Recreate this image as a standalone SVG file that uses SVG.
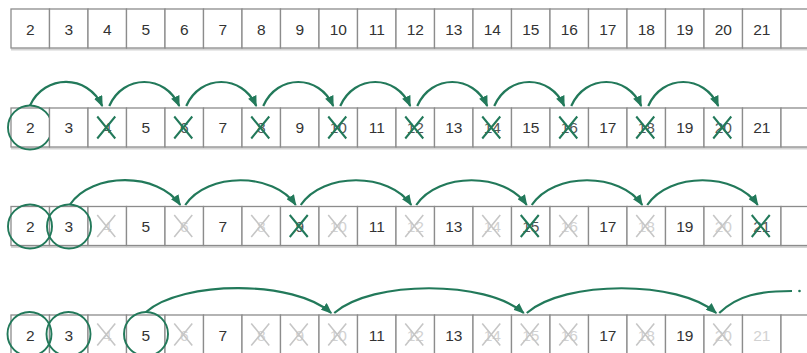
<svg xmlns="http://www.w3.org/2000/svg" xmlns:xlink="http://www.w3.org/1999/xlink" width="807" height="353" viewBox="0 0 807 353">
<style>
.c{fill:#fff;stroke:#8c8c8c;stroke-width:1.3}
.n{font-family:"Liberation Sans",Arial,sans-serif;font-size:15.5px;fill:#333;text-anchor:middle}
.d{fill:#555}
.f{fill:#d2d2d2}
.xg{fill:none;stroke:#22795a;stroke-width:2}
.xl{fill:none;stroke:#c6c6c6;stroke-width:1.6}
.ring{fill:none;stroke:#22795a;stroke-width:1.9}
.arc{fill:none;stroke:#22795a;stroke-width:2.2;marker-end:url(#ah)}
.tail{fill:none;stroke:#22795a;stroke-width:2.2}
.sh{stroke:#d4d4d4;stroke-width:2}
</style>
<defs>
<rect id="cell" width="38.5" height="39"/>
<path id="xm" d="M9.25,8.5 L27.25,30.5 M27.25,8.5 L9.25,30.5"/>
<marker id="ah" viewBox="0 0 11 9" refX="10" refY="4.5" markerWidth="11" markerHeight="9" markerUnits="userSpaceOnUse" orient="auto"><path d="M0,0 L11,4.5 L0,9 z" fill="#22795a"/></marker>
</defs>
<rect width="807" height="353" fill="#fff"/>
<g id="shadows">
<line class="sh" x1="11" y1="49.5" x2="807" y2="49.5"/>
<line class="sh" x1="11" y1="148.5" x2="807" y2="148.5"/>
<line class="sh" x1="11" y1="247" x2="807" y2="247"/>
</g>
<g id="row1">
<g id="r1-2" transform="translate(11,9)"><use href="#cell" class="c"/><text class="n" x="19.25" y="26">2</text></g>
<g id="r1-3" transform="translate(49.5,9)"><use href="#cell" class="c"/><text class="n" x="19.25" y="26">3</text></g>
<g id="r1-4" transform="translate(88,9)"><use href="#cell" class="c"/><text class="n" x="19.25" y="26">4</text></g>
<g id="r1-5" transform="translate(126.5,9)"><use href="#cell" class="c"/><text class="n" x="19.25" y="26">5</text></g>
<g id="r1-6" transform="translate(165,9)"><use href="#cell" class="c"/><text class="n" x="19.25" y="26">6</text></g>
<g id="r1-7" transform="translate(203.5,9)"><use href="#cell" class="c"/><text class="n" x="19.25" y="26">7</text></g>
<g id="r1-8" transform="translate(242,9)"><use href="#cell" class="c"/><text class="n" x="19.25" y="26">8</text></g>
<g id="r1-9" transform="translate(280.5,9)"><use href="#cell" class="c"/><text class="n" x="19.25" y="26">9</text></g>
<g id="r1-10" transform="translate(319,9)"><use href="#cell" class="c"/><text class="n" x="19.25" y="26">10</text></g>
<g id="r1-11" transform="translate(357.5,9)"><use href="#cell" class="c"/><text class="n" x="19.25" y="26">11</text></g>
<g id="r1-12" transform="translate(396,9)"><use href="#cell" class="c"/><text class="n" x="19.25" y="26">12</text></g>
<g id="r1-13" transform="translate(434.5,9)"><use href="#cell" class="c"/><text class="n" x="19.25" y="26">13</text></g>
<g id="r1-14" transform="translate(473,9)"><use href="#cell" class="c"/><text class="n" x="19.25" y="26">14</text></g>
<g id="r1-15" transform="translate(511.5,9)"><use href="#cell" class="c"/><text class="n" x="19.25" y="26">15</text></g>
<g id="r1-16" transform="translate(550,9)"><use href="#cell" class="c"/><text class="n" x="19.25" y="26">16</text></g>
<g id="r1-17" transform="translate(588.5,9)"><use href="#cell" class="c"/><text class="n" x="19.25" y="26">17</text></g>
<g id="r1-18" transform="translate(627,9)"><use href="#cell" class="c"/><text class="n" x="19.25" y="26">18</text></g>
<g id="r1-19" transform="translate(665.5,9)"><use href="#cell" class="c"/><text class="n" x="19.25" y="26">19</text></g>
<g id="r1-20" transform="translate(704,9)"><use href="#cell" class="c"/><text class="n" x="19.25" y="26">20</text></g>
<g id="r1-21" transform="translate(742.5,9)"><use href="#cell" class="c"/><text class="n" x="19.25" y="26">21</text></g>
<g id="r1-e" transform="translate(781,9)"><use href="#cell" class="c"/></g>
</g>
<g id="row2">
<g id="r2-2" transform="translate(11,108)"><use href="#cell" class="c"/><text class="n" x="19.25" y="25">2</text><circle class="ring" cx="19" cy="19.5" r="22"/></g>
<g id="r2-3" transform="translate(49.5,108)"><use href="#cell" class="c"/><text class="n" x="19.25" y="25">3</text></g>
<g id="r2-4" transform="translate(88,108)"><use href="#cell" class="c"/><text class="n d" x="19.25" y="25">4</text><use href="#xm" class="xg"/></g>
<g id="r2-5" transform="translate(126.5,108)"><use href="#cell" class="c"/><text class="n" x="19.25" y="25">5</text></g>
<g id="r2-6" transform="translate(165,108)"><use href="#cell" class="c"/><text class="n d" x="19.25" y="25">6</text><use href="#xm" class="xg"/></g>
<g id="r2-7" transform="translate(203.5,108)"><use href="#cell" class="c"/><text class="n" x="19.25" y="25">7</text></g>
<g id="r2-8" transform="translate(242,108)"><use href="#cell" class="c"/><text class="n d" x="19.25" y="25">8</text><use href="#xm" class="xg"/></g>
<g id="r2-9" transform="translate(280.5,108)"><use href="#cell" class="c"/><text class="n" x="19.25" y="25">9</text></g>
<g id="r2-10" transform="translate(319,108)"><use href="#cell" class="c"/><text class="n d" x="19.25" y="25">10</text><use href="#xm" class="xg"/></g>
<g id="r2-11" transform="translate(357.5,108)"><use href="#cell" class="c"/><text class="n" x="19.25" y="25">11</text></g>
<g id="r2-12" transform="translate(396,108)"><use href="#cell" class="c"/><text class="n d" x="19.25" y="25">12</text><use href="#xm" class="xg"/></g>
<g id="r2-13" transform="translate(434.5,108)"><use href="#cell" class="c"/><text class="n" x="19.25" y="25">13</text></g>
<g id="r2-14" transform="translate(473,108)"><use href="#cell" class="c"/><text class="n d" x="19.25" y="25">14</text><use href="#xm" class="xg"/></g>
<g id="r2-15" transform="translate(511.5,108)"><use href="#cell" class="c"/><text class="n" x="19.25" y="25">15</text></g>
<g id="r2-16" transform="translate(550,108)"><use href="#cell" class="c"/><text class="n d" x="19.25" y="25">16</text><use href="#xm" class="xg"/></g>
<g id="r2-17" transform="translate(588.5,108)"><use href="#cell" class="c"/><text class="n" x="19.25" y="25">17</text></g>
<g id="r2-18" transform="translate(627,108)"><use href="#cell" class="c"/><text class="n d" x="19.25" y="25">18</text><use href="#xm" class="xg"/></g>
<g id="r2-19" transform="translate(665.5,108)"><use href="#cell" class="c"/><text class="n" x="19.25" y="25">19</text></g>
<g id="r2-20" transform="translate(704,108)"><use href="#cell" class="c"/><text class="n d" x="19.25" y="25">20</text><use href="#xm" class="xg"/></g>
<g id="r2-21" transform="translate(742.5,108)"><use href="#cell" class="c"/><text class="n" x="19.25" y="25">21</text></g>
<g id="r2-e" transform="translate(781,108)"><use href="#cell" class="c"/></g>
</g>
<g id="row3">
<g id="r3-2" transform="translate(11,206.5)"><use href="#cell" class="c"/><text class="n" x="19.25" y="25.5">2</text></g>
<g id="r3-3" transform="translate(49.5,206.5)"><use href="#cell" class="c"/><text class="n" x="19.25" y="25.5">3</text></g>
<g id="r3-4" transform="translate(88,206.5)"><use href="#cell" class="c"/><text class="n f" x="19.25" y="25.5">4</text><use href="#xm" class="xl"/></g>
<g id="r3-5" transform="translate(126.5,206.5)"><use href="#cell" class="c"/><text class="n" x="19.25" y="25.5">5</text></g>
<g id="r3-6" transform="translate(165,206.5)"><use href="#cell" class="c"/><text class="n f" x="19.25" y="25.5">6</text><use href="#xm" class="xl"/></g>
<g id="r3-7" transform="translate(203.5,206.5)"><use href="#cell" class="c"/><text class="n" x="19.25" y="25.5">7</text></g>
<g id="r3-8" transform="translate(242,206.5)"><use href="#cell" class="c"/><text class="n f" x="19.25" y="25.5">8</text><use href="#xm" class="xl"/></g>
<g id="r3-9" transform="translate(280.5,206.5)"><use href="#cell" class="c"/><text class="n d" x="19.25" y="25.5">9</text><use href="#xm" class="xg"/></g>
<g id="r3-10" transform="translate(319,206.5)"><use href="#cell" class="c"/><text class="n f" x="19.25" y="25.5">10</text><use href="#xm" class="xl"/></g>
<g id="r3-11" transform="translate(357.5,206.5)"><use href="#cell" class="c"/><text class="n" x="19.25" y="25.5">11</text></g>
<g id="r3-12" transform="translate(396,206.5)"><use href="#cell" class="c"/><text class="n f" x="19.25" y="25.5">12</text><use href="#xm" class="xl"/></g>
<g id="r3-13" transform="translate(434.5,206.5)"><use href="#cell" class="c"/><text class="n" x="19.25" y="25.5">13</text></g>
<g id="r3-14" transform="translate(473,206.5)"><use href="#cell" class="c"/><text class="n f" x="19.25" y="25.5">14</text><use href="#xm" class="xl"/></g>
<g id="r3-15" transform="translate(511.5,206.5)"><use href="#cell" class="c"/><text class="n d" x="19.25" y="25.5">15</text><use href="#xm" class="xg"/></g>
<g id="r3-16" transform="translate(550,206.5)"><use href="#cell" class="c"/><text class="n f" x="19.25" y="25.5">16</text><use href="#xm" class="xl"/></g>
<g id="r3-17" transform="translate(588.5,206.5)"><use href="#cell" class="c"/><text class="n" x="19.25" y="25.5">17</text></g>
<g id="r3-18" transform="translate(627,206.5)"><use href="#cell" class="c"/><text class="n f" x="19.25" y="25.5">18</text><use href="#xm" class="xl"/></g>
<g id="r3-19" transform="translate(665.5,206.5)"><use href="#cell" class="c"/><text class="n" x="19.25" y="25.5">19</text></g>
<g id="r3-20" transform="translate(704,206.5)"><use href="#cell" class="c"/><text class="n f" x="19.25" y="25.5">20</text><use href="#xm" class="xl"/></g>
<g id="r3-21" transform="translate(742.5,206.5)"><use href="#cell" class="c"/><text class="n d" x="19.25" y="25.5">21</text><use href="#xm" class="xg"/></g>
<g id="r3-e" transform="translate(781,206.5)"><use href="#cell" class="c"/></g>
<circle class="ring" cx="30" cy="226.5" r="22"/>
<circle class="ring" cx="69" cy="226.5" r="22"/>
</g>
<g id="row4">
<g id="r4-2" transform="translate(11,315)"><use href="#cell" class="c"/><text class="n" x="19.25" y="26">2</text></g>
<g id="r4-3" transform="translate(49.5,315)"><use href="#cell" class="c"/><text class="n" x="19.25" y="26">3</text></g>
<g id="r4-4" transform="translate(88,315)"><use href="#cell" class="c"/><text class="n f" x="19.25" y="26">4</text><use href="#xm" class="xl"/></g>
<g id="r4-5" transform="translate(126.5,315)"><use href="#cell" class="c"/><text class="n" x="19.25" y="26">5</text></g>
<g id="r4-6" transform="translate(165,315)"><use href="#cell" class="c"/><text class="n f" x="19.25" y="26">6</text><use href="#xm" class="xl"/></g>
<g id="r4-7" transform="translate(203.5,315)"><use href="#cell" class="c"/><text class="n" x="19.25" y="26">7</text></g>
<g id="r4-8" transform="translate(242,315)"><use href="#cell" class="c"/><text class="n f" x="19.25" y="26">8</text><use href="#xm" class="xl"/></g>
<g id="r4-9" transform="translate(280.5,315)"><use href="#cell" class="c"/><text class="n f" x="19.25" y="26">9</text><use href="#xm" class="xl"/></g>
<g id="r4-10" transform="translate(319,315)"><use href="#cell" class="c"/><text class="n f" x="19.25" y="26">10</text><use href="#xm" class="xl"/></g>
<g id="r4-11" transform="translate(357.5,315)"><use href="#cell" class="c"/><text class="n" x="19.25" y="26">11</text></g>
<g id="r4-12" transform="translate(396,315)"><use href="#cell" class="c"/><text class="n f" x="19.25" y="26">12</text><use href="#xm" class="xl"/></g>
<g id="r4-13" transform="translate(434.5,315)"><use href="#cell" class="c"/><text class="n" x="19.25" y="26">13</text></g>
<g id="r4-14" transform="translate(473,315)"><use href="#cell" class="c"/><text class="n f" x="19.25" y="26">14</text><use href="#xm" class="xl"/></g>
<g id="r4-15" transform="translate(511.5,315)"><use href="#cell" class="c"/><text class="n f" x="19.25" y="26">15</text><use href="#xm" class="xl"/></g>
<g id="r4-16" transform="translate(550,315)"><use href="#cell" class="c"/><text class="n f" x="19.25" y="26">16</text><use href="#xm" class="xl"/></g>
<g id="r4-17" transform="translate(588.5,315)"><use href="#cell" class="c"/><text class="n" x="19.25" y="26">17</text></g>
<g id="r4-18" transform="translate(627,315)"><use href="#cell" class="c"/><text class="n f" x="19.25" y="26">18</text><use href="#xm" class="xl"/></g>
<g id="r4-19" transform="translate(665.5,315)"><use href="#cell" class="c"/><text class="n" x="19.25" y="26">19</text></g>
<g id="r4-20" transform="translate(704,315)"><use href="#cell" class="c"/><text class="n f" x="19.25" y="26">20</text><use href="#xm" class="xl"/></g>
<g id="r4-21" transform="translate(742.5,315)"><use href="#cell" class="c"/><text class="n f" x="19.25" y="26">21</text></g>
<g id="r4-e" transform="translate(781,315)"><use href="#cell" class="c"/></g>
<circle class="ring" cx="29.5" cy="334" r="22"/>
<circle class="ring" cx="68.5" cy="334" r="22"/>
<circle class="ring" cx="146" cy="334" r="22"/>
</g>
<g id="connectors">
<path class="arc" d="M30,105.5 C44.5,74 87.75,74 102.25,106"/>
<path class="arc" d="M109.25,106 C123.25,74 165.25,74 179.25,106"/>
<path class="arc" d="M186.25,106 C200.25,74 242.25,74 256.25,106"/>
<path class="arc" d="M263.25,106 C277.25,74 319.25,74 333.25,106"/>
<path class="arc" d="M340.25,106 C354.25,74 396.25,74 410.25,106"/>
<path class="arc" d="M417.25,106 C431.25,74 473.25,74 487.25,106"/>
<path class="arc" d="M494.25,106 C508.25,74 550.25,74 564.25,106"/>
<path class="arc" d="M571.25,106 C585.25,74 627.25,74 641.25,106"/>
<path class="arc" d="M648.25,106 C662.25,74 704.25,74 718.25,106"/>
<path class="arc" d="M70,204.5 C92,172 158.25,172 180.25,205"/>
<path class="arc" d="M185.25,205 C207.25,172 273.75,172 295.75,205"/>
<path class="arc" d="M300.75,205 C322.75,172 389.25,172 411.25,205"/>
<path class="arc" d="M416.25,205 C438.25,172 504.75,172 526.75,205"/>
<path class="arc" d="M531.75,205 C553.75,172 620.25,172 642.25,205"/>
<path class="arc" d="M647.25,205 C669.25,172 735.75,172 757.75,205"/>
<path class="arc" d="M146,312 C183,280 294.25,280 331.25,313"/>
<path class="arc" d="M334.25,313 C372.25,280 485.75,280 523.75,313"/>
<path class="arc" d="M526.75,313 C564.75,280 678.25,280 716.25,313"/>
<path class="tail" d="M719.25,313 C738,295 760,291 792,291"/>
<circle cx="799.5" cy="291" r="1.3" fill="#22795a"/>
</g>
</svg>
